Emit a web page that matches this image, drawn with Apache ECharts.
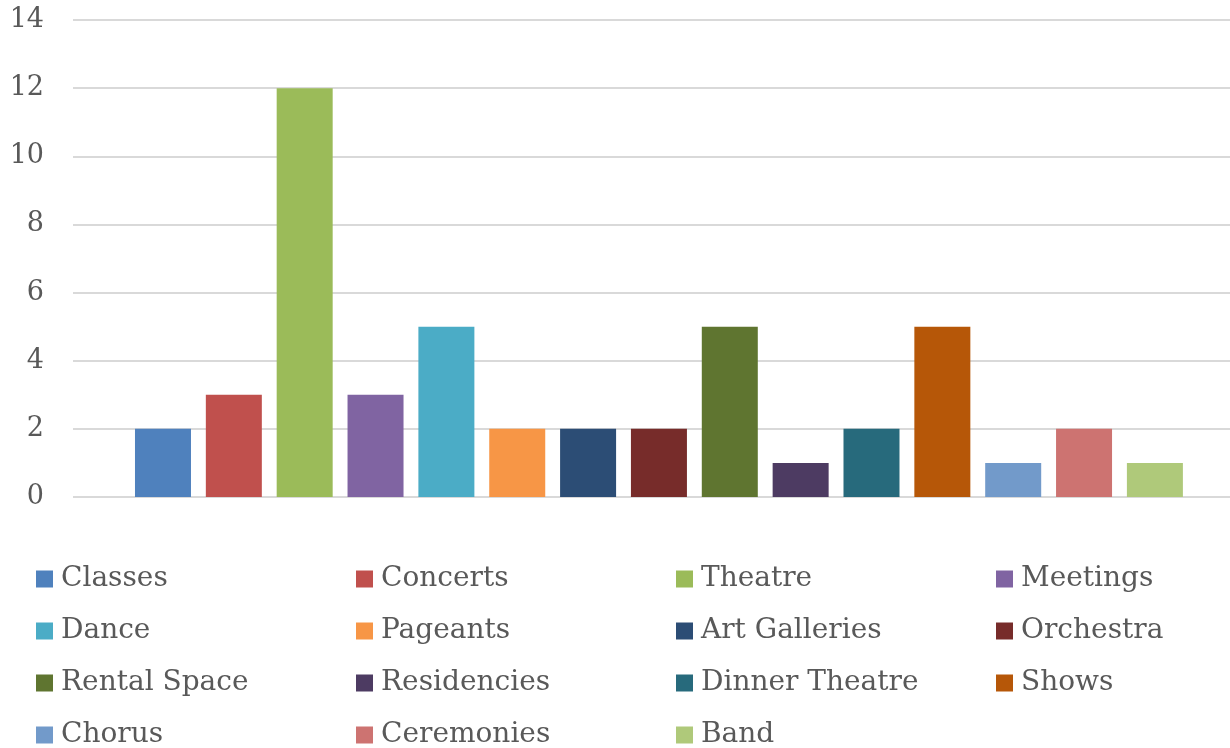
<!DOCTYPE html>
<html>
<head>
<meta charset="utf-8">
<script src="https://cdn.jsdelivr.net/npm/echarts@6/dist/echarts.min.js"></script>
<style>html,body{margin:0;padding:0;background:#fff;}#c{width:1230px;height:748px;}</style>
</head>
<body>
<div id="c"></div>
<script>
const seriesNames = ['Classes','Concerts','Theatre','Meetings','Dance','Pageants','Art Galleries','Orchestra','Rental Space','Residencies','Dinner Theatre','Shows','Chorus','Ceremonies','Band'];
const seriesValues = [2,3,12,3,5,2,2,2,5,1,2,5,1,2,1];
const seriesColors = ['#4F81BD','#C0504D','#9BBB59','#8064A2','#4BACC6','#F79646','#2C4D75','#772C2A','#5F7530','#4D3B62','#276A7C','#B65708','#729ACA','#CD7371','#AFC97A'];
const yTicks = {min:0, max:14, interval:2};

const FONT = 'DejaVu Serif';
const TXT = '#595959';

const legends = [];
for (let c = 0; c < 4; c++) {
  const names = seriesNames.filter((n, i) => i % 4 === c);
  legends.push({
    data: names,
    orient: 'vertical',
    left: 36 + 320 * c,
    top: 565,
    height: 190,
    padding: 0,
    itemWidth: 17,
    itemHeight: 17,
    itemGap: 24,
    icon: 'rect',
    selectedMode: false,
    textStyle: {fontFamily: FONT, fontSize: 28, color: TXT, lineHeight: 28, padding: [0,0,0,3]}
  });
}

const chart = echarts.init(document.getElementById('c'), null, {renderer: 'canvas'});
chart.setOption({
  animation: false,
  backgroundColor: '#fff',
  color: seriesColors,
  grid: {left: 73, top: 20, right: 0, height: 477, containLabel: false},
  legend: legends,
  xAxis: {
    type: 'value',
    min: -1.27, max: 15.06,
    axisLine: {show: false},
    axisTick: {show: false},
    axisLabel: {show: false},
    splitLine: {show: false}
  },
  yAxis: {
    type: 'value',
    min: yTicks.min, max: yTicks.max, interval: yTicks.interval,
    axisLine: {show: false},
    axisTick: {show: false},
    axisLabel: {fontFamily: FONT, fontSize: 27, color: TXT, margin: 29},
    splitLine: {lineStyle: {color: '#d9d9d9', width: 2}}
  },
  series: seriesNames.map((n, i) => ({
    name: n,
    type: 'bar',
    stack: 'all',
    data: [[i, seriesValues[i]]],
    barWidth: 56,
    itemStyle: {color: seriesColors[i]}
  }))
});
</script>
</body>
</html>
